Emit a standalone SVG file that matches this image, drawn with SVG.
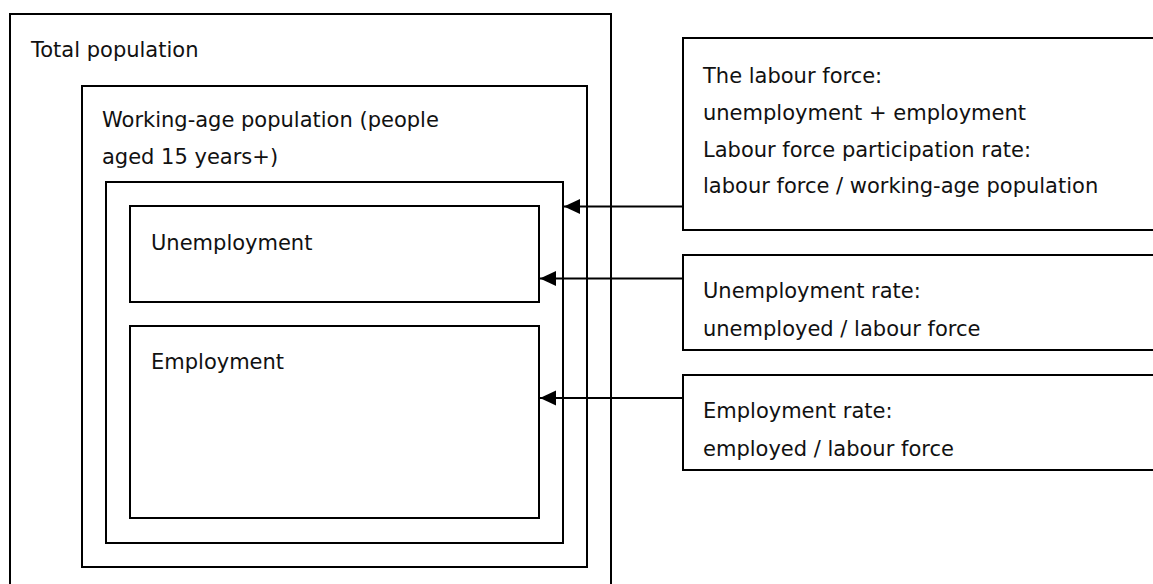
<svg xmlns="http://www.w3.org/2000/svg" width="1153" height="584" viewBox="0 0 1153 584">
<style>
.box{fill:none;stroke:#000;stroke-width:2}
.lbl{font-family:"DejaVu Sans","Liberation Sans",sans-serif;font-size:21px;fill:#111}
.conn{stroke:#000;stroke-width:2;fill:none}
</style>
<defs>
<marker id="arr" markerWidth="16" markerHeight="16" refX="16" refY="8" orient="auto" markerUnits="userSpaceOnUse">
<path d="M16,8 L0,0.5 L0,15.5 Z" fill="#000"/>
</marker>
</defs>
<rect width="1153" height="584" fill="#fff"/>
<g id="total-population">
<rect class="box" x="10" y="14" width="601" height="600"/>
<text class="lbl" x="31" y="57">Total population</text>
</g>
<g id="working-age-population">
<rect class="box" x="82" y="86" width="505" height="481"/>
<text class="lbl" x="102" y="127">Working-age population (people</text>
<text class="lbl" x="102" y="164">aged 15 years+)</text>
</g>
<g id="labour-force">
<rect class="box" x="106" y="182" width="457" height="361"/>
</g>
<g id="unemployment">
<rect class="box" x="130" y="206" width="409" height="96"/>
<text class="lbl" x="151" y="250">Unemployment</text>
</g>
<g id="employment">
<rect class="box" x="130" y="326" width="409" height="192"/>
<text class="lbl" x="151" y="369">Employment</text>
</g>
<g id="labour-force-note">
<rect class="box" x="683" y="38" width="480" height="192"/>
<text class="lbl" x="703" y="83">The labour force:</text>
<text class="lbl" x="703" y="120">unemployment + employment</text>
<text class="lbl" x="703" y="157">Labour force participation rate:</text>
<text class="lbl" x="703" y="193">labour force / working-age population</text>
</g>
<g id="unemployment-rate-note">
<rect class="box" x="683" y="255" width="480" height="95"/>
<text class="lbl" x="703" y="298">Unemployment rate:</text>
<text class="lbl" x="703" y="336">unemployed / labour force</text>
</g>
<g id="employment-rate-note">
<rect class="box" x="683" y="375" width="480" height="95"/>
<text class="lbl" x="703" y="418">Employment rate:</text>
<text class="lbl" x="703" y="456">employed / labour force</text>
</g>
<g id="connectors">
<line class="conn" x1="683" y1="206.5" x2="564" y2="206.5" marker-end="url(#arr)"/>
<line class="conn" x1="683" y1="278.5" x2="540" y2="278.5" marker-end="url(#arr)"/>
<line class="conn" x1="683" y1="398" x2="540" y2="398" marker-end="url(#arr)"/>
</g>
</svg>
